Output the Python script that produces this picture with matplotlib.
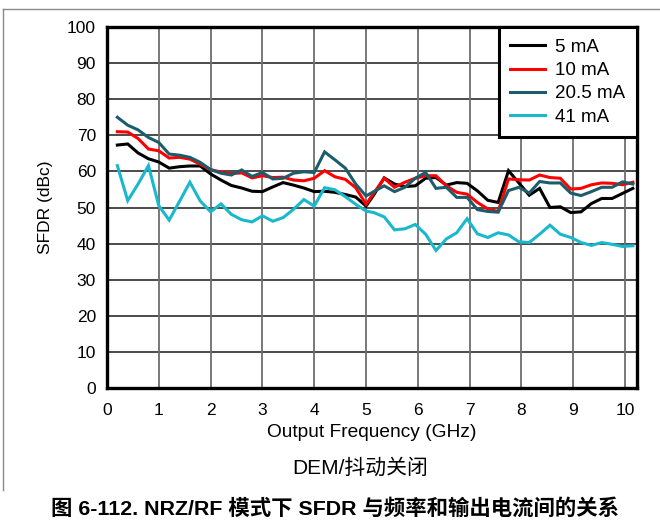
import matplotlib
matplotlib.use("Agg")
import matplotlib.pyplot as plt
from matplotlib.lines import Line2D

plt.rcParams['font.family'] = ['Liberation Sans', 'Noto Sans CJK SC', 'DejaVu Sans']

freqs = [0.2, 0.4, 0.6, 0.8, 1.0, 1.2, 1.4, 1.6, 1.8, 2.0, 2.2, 2.4, 2.6, 2.8, 3.0,
         3.2, 3.4, 3.6, 3.8, 4.0, 4.2, 4.4, 4.6, 4.8, 5.0,
         5.15, 5.35, 5.55, 5.75, 5.95, 6.15, 6.35, 6.55, 6.75, 6.95, 7.15, 7.35, 7.55,
         7.75, 7.95, 8.15, 8.35, 8.55, 8.75, 8.95, 9.15, 9.35, 9.55, 9.75, 9.95, 10.15]

sfdr_5mA = [67.3, 67.6, 65.1, 63.5, 62.6, 60.9, 61.3, 61.5, 61.5, 59.3, 57.6, 56.1, 55.4,
            54.5, 54.4, 55.7, 56.9, 56.2, 55.4, 54.4, 54.5, 54.2, 53.6, 52.9, 50.4,
            53.5, 58.2, 56.5, 55.8, 56.0, 58.1, 58.3, 56.2, 56.9, 56.7, 54.6, 52.0, 51.4,
            60.2, 56.8, 53.4, 55.3, 50.0, 50.2, 48.6, 48.8, 51.1, 52.5, 52.5, 53.9, 55.3]

sfdr_10mA = [71.0, 70.9, 69.1, 66.2, 65.7, 63.7, 63.9, 63.4, 62.0, 60.5, 59.8, 59.4, 59.6,
             58.2, 58.8, 58.3, 58.4, 57.6, 57.4, 58.1, 60.2, 58.5, 57.8, 55.5, 50.9,
             54.0, 58.1, 55.6, 57.0, 58.1, 58.8, 58.8, 56.0, 54.2, 53.7, 51.4, 49.6, 48.9,
             57.9, 57.7, 57.6, 59.0, 58.3, 58.1, 55.1, 55.3, 56.3, 56.8, 56.7, 56.3, 57.0]

sfdr_20_5mA = [75.0, 72.8, 71.5, 69.4, 68.0, 64.8, 64.5, 63.9, 62.5, 60.5, 59.5, 59.0, 60.4,
               58.6, 59.7, 57.9, 58.1, 59.5, 59.9, 59.7, 65.4, 63.2, 60.9, 56.5, 53.2,
               54.4, 56.0, 54.4, 55.6, 58.1, 59.7, 55.3, 55.6, 52.8, 52.8, 49.4, 48.9, 48.7,
               54.7, 55.6, 54.0, 57.2, 56.8, 56.8, 54.0, 53.3, 54.4, 55.6, 55.6, 57.1, 56.5]

sfdr_41mA = [61.6, 51.9, 56.5, 61.6, 50.5, 46.5, 51.7, 57.0, 51.8, 48.8, 51.0, 48.1, 46.6,
             46.0, 47.7, 46.2, 47.2, 49.5, 52.2, 50.4, 55.5, 54.9, 53.0, 50.9, 49.0,
             48.6, 47.4, 43.8, 44.1, 45.3, 42.6, 38.1, 41.3, 43.0, 46.9, 42.7, 41.7, 43.0,
             42.4, 40.5, 40.3, 42.6, 45.1, 42.6, 41.7, 40.3, 39.5, 40.3, 39.8, 39.2, 39.4]

series_labels = ['5 mA', '10 mA', '20.5 mA', '41 mA']
series_colors = ['#000000', '#ff0000', '#1d5c6b', '#1ab8cc']

x_ticks = [0, 1, 2, 3, 4, 5, 6, 7, 8, 9, 10]
y_ticks = [0, 10, 20, 30, 40, 50, 60, 70, 80, 90, 100]

fig = plt.figure(figsize=(6.6, 5.23), dpi=100)
ax = fig.add_axes([107/660, 1-388/523, (637-107)/660, (388-27)/523])

for y in y_ticks:
    ax.axhline(y, color='#1a1a1a', lw=1.1, zorder=1)
for x in x_ticks:
    ax.axvline(x, color='#6e6e6e', lw=1.3, zorder=1)

for vals, lab, col in zip([sfdr_5mA, sfdr_10mA, sfdr_20_5mA, sfdr_41mA], series_labels, series_colors):
    ax.plot(freqs, vals, color=col, lw=2.2, label=lab, zorder=3, solid_joinstyle='miter')

ax.set_xlim(0, 10.23)
ax.set_ylim(0, 100)
ax.set_xticks(x_ticks)
ax.set_yticks(y_ticks)
ax.tick_params(axis='y', length=0, labelsize=12.5, pad=8)
ax.tick_params(axis='x', length=0, labelsize=12.5, pad=11)
for s in ax.spines.values():
    s.set_linewidth(2.4)
    s.set_color('black')
    s.set_zorder(5)

ax.set_xlabel('Output Frequency (GHz)', fontsize=13.8, labelpad=4)
ax.set_ylabel('SFDR (dBc)', fontsize=12.5, labelpad=10)

leg = ax.legend(loc='upper right', bbox_to_anchor=(1.0, 1.0), borderaxespad=0,
                fontsize=13.5, fancybox=False, framealpha=1, edgecolor='black',
                handlelength=1.85, handletextpad=0.55, labelspacing=0.33,
                borderpad=0.62)
leg.get_frame().set_linewidth(2.2)
leg.set_zorder(6)

fig.text(360/660, 1-468/523, 'DEM/抖动关闭', ha='center', va='center', fontsize=15)
fig.text(335/660, 1-508/523, '图 6-112. NRZ/RF 模式下 SFDR 与频率和输出电流间的关系',
         ha='center', va='center', fontsize=15.4, fontweight='bold')

fig.add_artist(Line2D([3/660, 1.0], [1-9/523, 1-9/523], transform=fig.transFigure,
                      color='#8a8a8a', lw=1.0))
fig.add_artist(Line2D([3/660, 3/660], [1-9/523, 1-490/523], transform=fig.transFigure,
                      color='#8a8a8a', lw=1.0))

fig.savefig('out.png', dpi=100)
